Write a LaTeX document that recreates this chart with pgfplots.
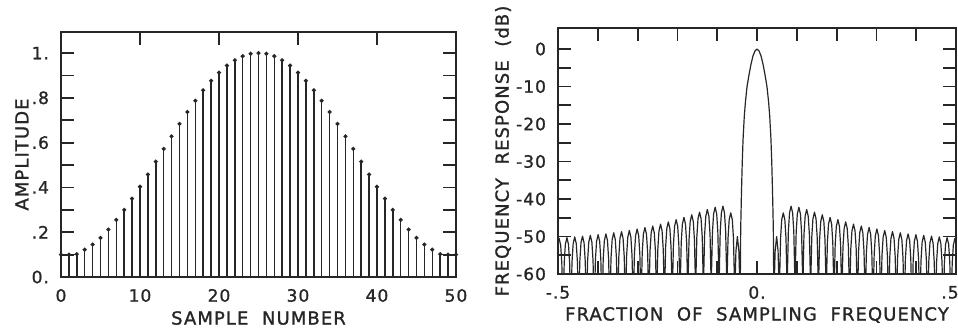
\documentclass[border=0pt]{standalone}
\usepackage{pgfplots}
\pgfplotsset{compat=1.18}
\usepackage{pgfplotstable}
\usepackage{fontspec}
\setmainfont{DejaVu Sans}
\newfontfamily\plotfont{DejaVu Sans}[LetterSpace=6, FakeBold=1.2]
\newcommand\tickfont{\plotfont\fontsize{8.5}{10}\selectfont}
\newcommand\labfont{\plotfont\fontsize{9}{11}\selectfont}
\definecolor{ink}{gray}{0.15}

\pgfplotstableread{
n w
0 0.100
1 0.100
2 0.102
3 0.122
4 0.145
5 0.175
6 0.212
7 0.255
8 0.300
9 0.350
10 0.403
11 0.458
12 0.515
13 0.572
14 0.628
15 0.684
16 0.737
17 0.787
18 0.834
19 0.876
20 0.913
21 0.944
22 0.968
23 0.986
24 0.997
25 1.000
26 0.997
27 0.986
28 0.968
29 0.944
30 0.913
31 0.876
32 0.834
33 0.787
34 0.737
35 0.684
36 0.628
37 0.572
38 0.515
39 0.458
40 0.403
41 0.350
42 0.300
43 0.255
44 0.212
45 0.175
46 0.145
47 0.122
48 0.102
49 0.100
50 0.100
}\win

\pgfplotstableread{
f db
0.0000 0.0
0.0050 -0.5
0.0100 -1.8
0.0150 -4.0
0.0200 -6.8
0.0250 -10.0
0.0290 -14.0
0.0320 -18.0
0.0350 -24.0
0.0370 -30.0
0.0390 -38.0
0.0410 -48.0
0.0425 -70.0
0.0435 -62.0
0.0455 -54.0
0.0493 -50.0
0.0530 -54.0
0.0550 -62.0
0.0562 -70
0.0572 -59.7
0.0592 -50.4
0.0621 -45.5
0.0660 -43.7
0.0699 -45.5
0.0728 -50.4
0.0748 -59.7
0.0758 -70
0.0768 -57.9
0.0788 -48.6
0.0817 -43.7
0.0856 -41.9
0.0895 -43.7
0.0924 -48.6
0.0944 -57.9
0.0954 -70
0.0964 -58.2
0.0984 -48.9
0.1013 -44.0
0.1052 -42.2
0.1091 -44.0
0.1120 -48.9
0.1140 -58.2
0.1150 -70
0.1160 -58.8
0.1180 -49.5
0.1209 -44.6
0.1248 -42.8
0.1287 -44.6
0.1316 -49.5
0.1336 -58.8
0.1346 -70
0.1356 -59.5
0.1376 -50.2
0.1405 -45.3
0.1444 -43.5
0.1483 -45.3
0.1512 -50.2
0.1532 -59.5
0.1542 -70
0.1552 -60.2
0.1572 -50.9
0.1601 -46.0
0.1640 -44.2
0.1679 -46.0
0.1708 -50.9
0.1728 -60.2
0.1738 -70
0.1748 -60.9
0.1768 -51.6
0.1797 -46.7
0.1836 -44.9
0.1875 -46.7
0.1904 -51.6
0.1924 -60.9
0.1934 -70
0.1944 -61.5
0.1964 -52.2
0.1993 -47.3
0.2032 -45.5
0.2071 -47.3
0.2100 -52.2
0.2120 -61.5
0.2130 -70
0.2140 -62.1
0.2160 -52.8
0.2189 -47.9
0.2228 -46.1
0.2267 -47.9
0.2296 -52.8
0.2316 -62.1
0.2326 -70
0.2336 -62.7
0.2356 -53.4
0.2385 -48.5
0.2424 -46.7
0.2463 -48.5
0.2492 -53.4
0.2512 -62.7
0.2522 -70
0.2532 -63.2
0.2552 -53.9
0.2581 -49.0
0.2620 -47.2
0.2659 -49.0
0.2688 -53.9
0.2708 -63.2
0.2718 -70
0.2728 -63.6
0.2748 -54.3
0.2777 -49.4
0.2816 -47.6
0.2855 -49.4
0.2884 -54.3
0.2904 -63.6
0.2914 -70
0.2924 -64.0
0.2944 -54.7
0.2973 -49.8
0.3012 -48.0
0.3051 -49.8
0.3080 -54.7
0.3100 -64.0
0.3110 -70
0.3120 -64.4
0.3140 -55.1
0.3169 -50.2
0.3208 -48.4
0.3247 -50.2
0.3276 -55.1
0.3296 -64.4
0.3306 -70
0.3316 -64.7
0.3336 -55.4
0.3365 -50.5
0.3404 -48.7
0.3443 -50.5
0.3472 -55.4
0.3492 -64.7
0.3502 -70
0.3512 -65.0
0.3532 -55.7
0.3561 -50.8
0.3600 -49.0
0.3639 -50.8
0.3668 -55.7
0.3688 -65.0
0.3698 -70
0.3708 -65.3
0.3728 -56.0
0.3757 -51.1
0.3796 -49.3
0.3835 -51.1
0.3864 -56.0
0.3884 -65.3
0.3894 -70
0.3904 -65.5
0.3924 -56.2
0.3953 -51.3
0.3992 -49.5
0.4031 -51.3
0.4060 -56.2
0.4080 -65.5
0.4090 -70
0.4100 -65.7
0.4120 -56.4
0.4149 -51.5
0.4188 -49.7
0.4227 -51.5
0.4256 -56.4
0.4276 -65.7
0.4286 -70
0.4296 -65.9
0.4316 -56.6
0.4345 -51.7
0.4384 -49.9
0.4423 -51.7
0.4452 -56.6
0.4472 -65.9
0.4482 -70
0.4492 -66.1
0.4512 -56.8
0.4541 -51.9
0.4580 -50.1
0.4619 -51.9
0.4648 -56.8
0.4668 -66.1
0.4678 -70
0.4688 -66.3
0.4708 -57.0
0.4737 -52.1
0.4776 -50.3
0.4815 -52.1
0.4844 -57.0
0.4864 -66.3
0.4874 -70
0.4884 -66.5
0.4904 -57.2
0.4933 -52.3
0.4972 -50.5
0.5011 -52.3
0.5040 -57.2
0.5060 -66.5
0.5070 -70
}\resp

\pgfplotsset{
  every axis/.append style={
    scale only axis,
    axis line style={ink, line width=1.1pt},
    tick style={ink, line width=0.9pt},
    major tick length=6.5pt,
    minor tick length=6.5pt,
    tick align=inside,
    tick pos=both,
    tick label style={font=\tickfont, text=ink},
    label style={font=\labfont, text=ink},
    xticklabel style={yshift=-2.5pt},
    yticklabel style={xshift=-2.5pt},
    xlabel style={at={([yshift=-20.5pt]axis description cs:0.5,0)}, anchor=center},
  },
}

\begin{document}
\begin{tikzpicture}
\begin{axis}[
  at={(30.5pt,26pt)}, anchor=south west,
  width=197.5pt, height=122.5pt,
  xmin=0, xmax=50, ymin=0, ymax=1.094,
  xtick={0,10,20,30,40,50},
  xticklabels={0,10,20,30,40,50},
  ytick={0,0.2,0.4,0.6,0.8,1},
  yticklabels={0.,.2,.4,.6,.8,1.},
  minor ytick={0.1,0.3,0.5,0.7,0.9},
  xlabel={SAMPLE\ \ NUMBER},
  ylabel={AMPLITUDE},
  ylabel style={at={([xshift=-19.5pt]axis description cs:0,0.5)}, anchor=center},
]
\addplot[ycomb, ink, line width=0.75pt, mark=*, mark size=0.6pt] table[x=n, y=w] {\win};
\addplot[ink, line width=0.75pt] coordinates {(0,0.1) (2,0.1)};
\addplot[ink, line width=0.75pt] coordinates {(48,0.1) (50,0.1)};
\end{axis}

\begin{axis}[
  at={(279pt,27.5pt)}, anchor=south west,
  width=199pt, height=123pt,
  xmin=-0.5, xmax=0.5, ymin=-60, ymax=5.6,
  xtick={-0.5,0},
  xticklabels={-.5,0.},
  extra x ticks={0.5},
  extra x tick labels={.5},
  extra x tick style={xticklabel style={xshift=-3pt}},
  minor xtick={-0.4,-0.3,-0.2,-0.1,0.1,0.2,0.3,0.4},
  ytick={-60,-50,-40,-30,-20,-10,0},
  yticklabels={-60,-50,-40,-30,-20,-10,0},
  minor ytick={-55,-45,-35,-25,-15,-5},
  xlabel={FRACTION\ \ OF\ \ SAMPLING\ \ FREQUENCY},
  ylabel={FREQUENCY\ \ RESPONSE\ \ (dB)},
  ylabel style={at={([xshift=-27.5pt]axis description cs:0,0.5)}, anchor=center},
]
\addplot[ink, line width=0.6pt, line join=round] table[x=f, y=db] {\resp};
\addplot[ink, line width=0.6pt, line join=round] table[x expr=-\thisrow{f}, y=db] {\resp};
\end{axis}
\pgfresetboundingbox
\useasboundingbox (0,0) rectangle (479pt,164.5pt);
\end{tikzpicture}
\end{document}
